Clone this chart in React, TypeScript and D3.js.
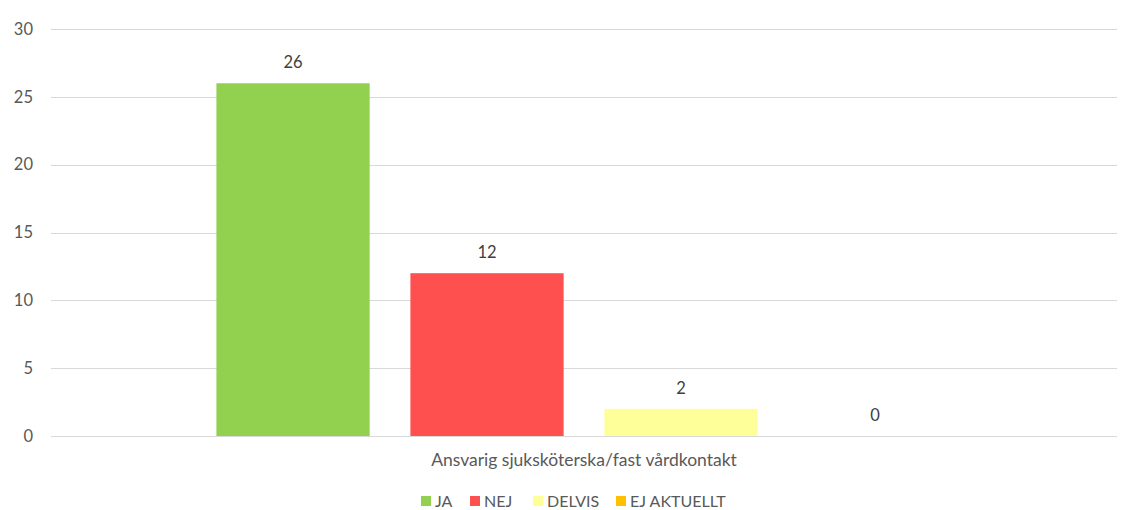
import React from "react";
import * as d3 from "d3";

const categories = ["Ansvarig sjuksköterska/fast vårdkontakt"];
const seriesNames = ["JA", "NEJ", "DELVIS", "EJ AKTUELLT"];
const seriesValues = [26, 12, 2, 0];
const seriesColors = ["#92D050", "#FF5050", "#FFFF99", "#FFC000"];
const yTicks = [0, 5, 10, 15, 20, 25, 30];

const W = 1129;
const H = 510;
const M = { left: 51, right: 12, top: 29, bottom: 74 };
const FONT = "Lato, 'Open Sans', sans-serif";
const TEXT = "#595959";

export default function App() {
  const y = d3.scaleLinear().domain([0, 30]).range([H - M.bottom, M.top]);
  const x0 = d3
    .scaleBand<string>()
    .domain(categories)
    .range([M.left, W - M.right])
    .paddingInner(0)
    .paddingOuter(0.225);
  const x1 = d3
    .scaleBand<string>()
    .domain(seriesNames)
    .range([0, x0.bandwidth()])
    .paddingInner(0.21)
    .paddingOuter(0);

  const legendItems = [{ x: 421 }, { x: 470 }, { x: 533 }, { x: 616 }];

  return (
    <svg
      width={W}
      height={H}
      style={{ position: "absolute", left: 0, top: 0, background: "#fff" }}
      fontFamily={FONT}
    >
      {yTicks.map((t) => (
        <g key={t}>
          <line
            x1={M.left}
            x2={W - M.right}
            y1={Math.round(y(t)) + 0.5}
            y2={Math.round(y(t)) + 0.5}
            stroke="#D9D9D9"
            strokeWidth={1}
          />
          <text
            x={33}
            y={y(t)}
            dy="0.35em"
            textAnchor="end"
            fontSize={16.5}
            fill={TEXT}
          >
            {t}
          </text>
        </g>
      ))}
      {categories.map((c) => (
        <g key={c} transform={`translate(${x0(c)},0)`}>
          {seriesNames.map((s, i) => {
            const v = seriesValues[i];
            const bx = x1(s)!;
            const bw = x1.bandwidth();
            return (
              <g key={s}>
                <rect
                  x={bx}
                  y={y(v)}
                  width={bw}
                  height={y(0) - y(v)}
                  fill={seriesColors[i]}
                />
                <text
                  x={bx + bw / 2}
                  y={y(v) - 21}
                  dy="0.35em"
                  textAnchor="middle"
                  fontSize={16.5}
                  fill="#404040"
                >
                  {v}
                </text>
              </g>
            );
          })}
          <text
            x={x0.bandwidth() / 2}
            y={460}
            dy="0.35em"
            textAnchor="middle"
            fontSize={17.5}
            fill={TEXT}
          >
            {c}
          </text>
        </g>
      ))}
      {seriesNames.map((s, i) => (
        <g key={s} transform={`translate(${legendItems[i].x},0)`}>
          <rect x={0} y={496} width={10} height={10} fill={seriesColors[i]} />
          <text x={14} y={501} dy="0.35em" fontSize={16} fill={TEXT}>
            {s}
          </text>
        </g>
      ))}
    </svg>
  );
}
